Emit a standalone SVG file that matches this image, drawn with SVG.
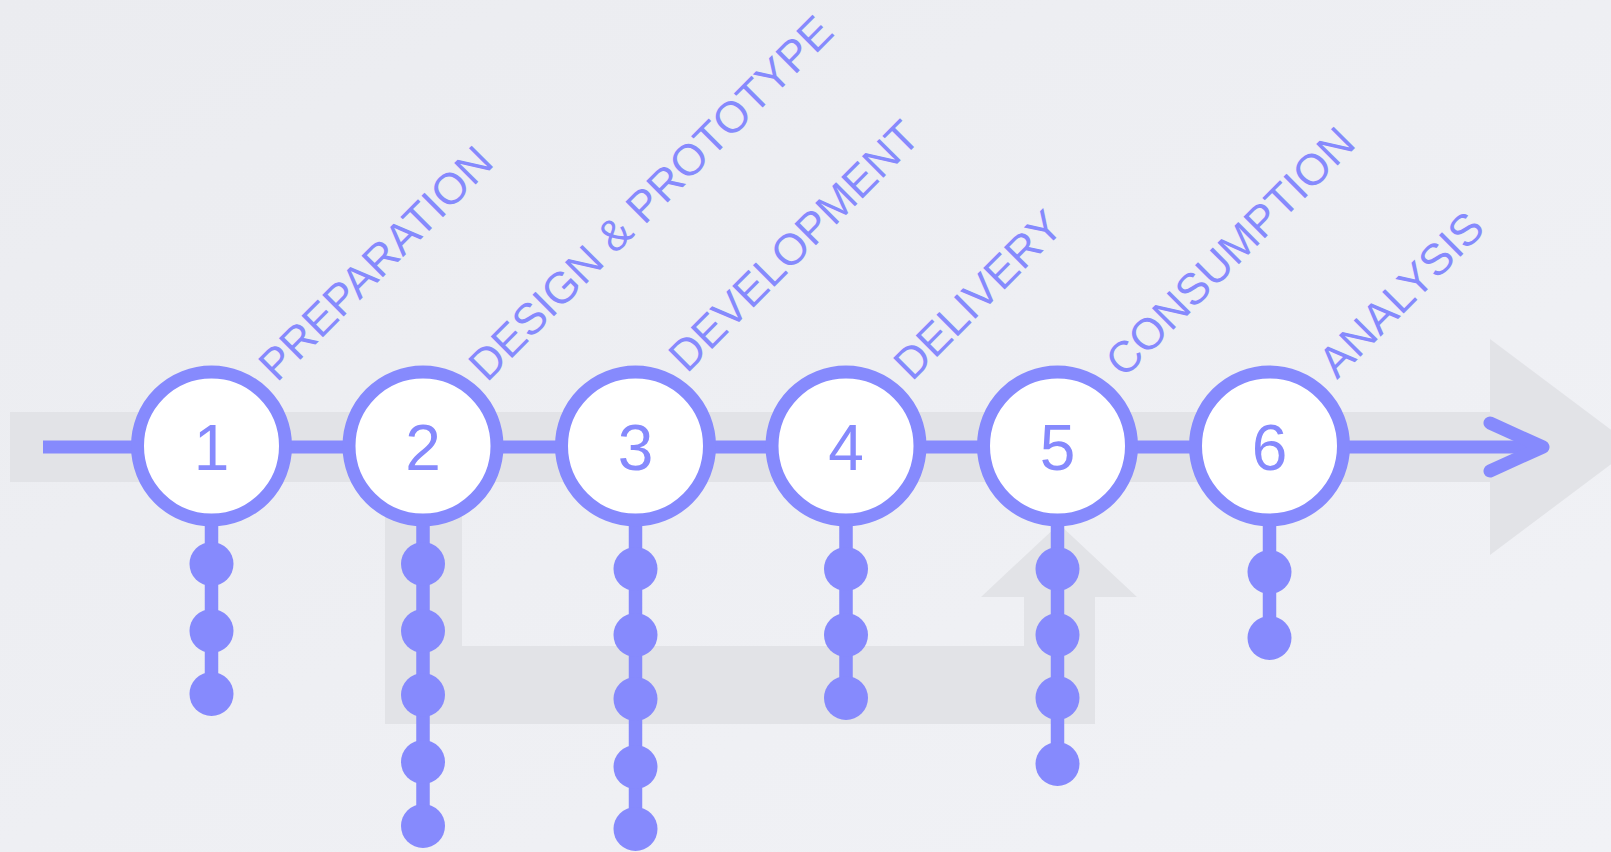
<svg xmlns="http://www.w3.org/2000/svg" width="1611" height="852" viewBox="0 0 1611 852">
  <defs>
    <linearGradient id="bg" x1="0" y1="0" x2="1" y2="1">
      <stop offset="0" stop-color="#EBECF0"/>
      <stop offset="1" stop-color="#F1F2F6"/>
    </linearGradient>
    <style>
      .shade { fill: #E2E3E7; }
      .ring { fill: #FFFFFF; stroke: #868AFD; stroke-width: 13; }
      .line { stroke: #868AFD; stroke-width: 13; fill: none; }
      .stem { stroke: #868AFD; stroke-width: 13.5; }
      .dot { fill: #868AFD; }
      .num { font-family: "Liberation Sans", Arial, Helvetica, sans-serif; font-size: 64px; fill: #868AFD; text-anchor: middle; }
      .lbl { font-family: "Liberation Sans", Arial, Helvetica, sans-serif; font-size: 44px; fill: #868AFD; }
    </style>
  </defs>
  <rect x="0" y="0" width="1611" height="852" fill="url(#bg)"/>

  <g id="background-shapes">
    <path class="shade" d="M10,412 L1490,412 L1490,339 L1634,447 L1490,555 L1490,482 L10,482 Z"/>
    <path class="shade" d="M385,505 L462,505 L462,646 L1024,646 L1024,597 L981,597 L1059,524 L1137,597 L1095,597 L1095,724 L385,724 Z"/>
  </g>

  <g id="connectors">
    <line class="line" x1="43" y1="447" x2="1540" y2="447"/>
    <polyline class="line" points="1490,423 1543,447 1490,471" stroke-linecap="round" stroke-linejoin="round"/>
  </g>

  <g id="step1">
    <line class="stem" x1="211.5" y1="510" x2="211.5" y2="694"/>
    <circle class="dot" cx="211.5" cy="564" r="22"/>
    <circle class="dot" cx="211.5" cy="631" r="22"/>
    <circle class="dot" cx="211.5" cy="694" r="22"/>
    <circle class="ring" cx="211.5" cy="446" r="74"/>
    <text class="num" x="211.5" y="470">1</text>
    <text class="lbl" transform="translate(277,383) rotate(-45)">PREPARATION</text>
  </g>

  <g id="step2">
    <line class="stem" x1="423" y1="510" x2="423" y2="826"/>
    <circle class="dot" cx="423" cy="564" r="22"/>
    <circle class="dot" cx="423" cy="631" r="22"/>
    <circle class="dot" cx="423" cy="695" r="22"/>
    <circle class="dot" cx="423" cy="762" r="22"/>
    <circle class="dot" cx="423" cy="826" r="22"/>
    <circle class="ring" cx="423" cy="446" r="74"/>
    <text class="num" x="423" y="470">2</text>
    <text class="lbl" transform="translate(487,383) rotate(-45)">DESIGN &amp; PROTOTYPE</text>
  </g>

  <g id="step3">
    <line class="stem" x1="635.5" y1="510" x2="635.5" y2="829"/>
    <circle class="dot" cx="635.5" cy="569" r="22"/>
    <circle class="dot" cx="635.5" cy="635" r="22"/>
    <circle class="dot" cx="635.5" cy="699" r="22"/>
    <circle class="dot" cx="635.5" cy="767" r="22"/>
    <circle class="dot" cx="635.5" cy="829" r="22"/>
    <circle class="ring" cx="635.5" cy="446" r="74"/>
    <text class="num" x="635.5" y="470">3</text>
    <text class="lbl" transform="translate(687,374) rotate(-45)">DEVELOPMENT</text>
  </g>

  <g id="step4">
    <line class="stem" x1="846" y1="510" x2="846" y2="698"/>
    <circle class="dot" cx="846" cy="569" r="22"/>
    <circle class="dot" cx="846" cy="635" r="22"/>
    <circle class="dot" cx="846" cy="698" r="22"/>
    <circle class="ring" cx="846" cy="446" r="74"/>
    <text class="num" x="846" y="470">4</text>
    <text class="lbl" transform="translate(912,382) rotate(-45)">DELIVERY</text>
  </g>

  <g id="step5">
    <line class="stem" x1="1057.5" y1="510" x2="1057.5" y2="764"/>
    <circle class="dot" cx="1057.5" cy="569" r="22"/>
    <circle class="dot" cx="1057.5" cy="635" r="22"/>
    <circle class="dot" cx="1057.5" cy="698" r="22"/>
    <circle class="dot" cx="1057.5" cy="764" r="22"/>
    <circle class="ring" cx="1057.5" cy="446" r="74"/>
    <text class="num" x="1057.5" y="470">5</text>
    <text class="lbl" transform="translate(1124,379) rotate(-45)">CONSUMPTION</text>
  </g>

  <g id="step6">
    <line class="stem" x1="1269.5" y1="510" x2="1269.5" y2="638"/>
    <circle class="dot" cx="1269.5" cy="572" r="22"/>
    <circle class="dot" cx="1269.5" cy="638" r="22"/>
    <circle class="ring" cx="1269.5" cy="446" r="74"/>
    <text class="num" x="1269.5" y="470">6</text>
    <text class="lbl" transform="translate(1337,380) rotate(-45)">ANALYSIS</text>
  </g>
</svg>
